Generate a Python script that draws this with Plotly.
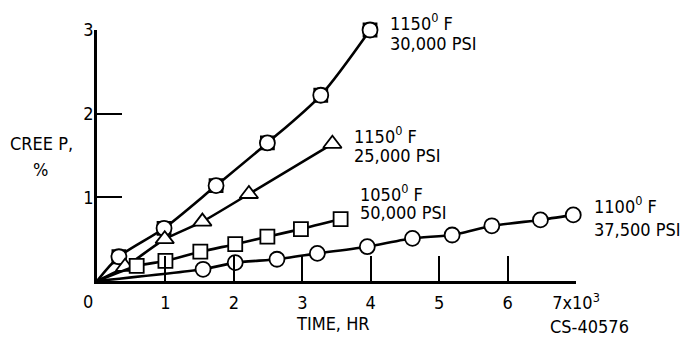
import plotly.graph_objects as go

# ---- data ----
x_30k = [0.32, 0.98, 1.74, 2.49, 3.27, 3.99]
y_30k = [0.29, 0.63, 1.14, 1.65, 2.22, 3.00]

x_25k = [0.41, 0.99, 1.54, 2.22, 3.44]
y_25k = [0.17, 0.50, 0.71, 1.04, 1.64]

x_50k = [0.58, 1.00, 1.51, 2.02, 2.49, 2.98, 3.56]
y_50k = [0.18, 0.24, 0.35, 0.44, 0.53, 0.62, 0.74]

x_375k = [1.55, 2.02, 2.63, 3.22, 3.95, 4.61, 5.19, 5.77, 6.48, 6.96]
y_375k = [0.14, 0.22, 0.26, 0.33, 0.41, 0.51, 0.55, 0.66, 0.73, 0.79]

x_ticks = [1, 2, 3, 4, 5, 6, 7]
x_ticktext = ["1", "2", "3", "4", "5", "6", "7x10<sup>3</sup>"]
y_ticks = [1, 2, 3]
y_ticktext = ["1", "2", "3"]

labels = [
    ("1150<sup>0</sup> F", "30,000 PSI"),
    ("1150<sup>0</sup> F", "25,000 PSI"),
    ("1050<sup>0</sup> F", "50,000 PSI"),
    ("1100<sup>0</sup> F", "37,500 PSI"),
]

FONT = "Liberation Sans Narrow, DejaVu Sans Condensed, Arial Narrow, sans-serif"
FS = 18
LW = 2.6

fig = go.Figure()

def add_series(xs, ys, symbols, smooth):
    fig.add_trace(go.Scatter(
        x=[0] + xs, y=[0] + ys, mode="lines",
        line=dict(color="black", width=LW, shape="spline", smoothing=smooth),
        hoverinfo="skip", showlegend=False, cliponaxis=False))
    for sym, sz in symbols:
        fig.add_trace(go.Scatter(
            x=xs, y=ys, mode="markers",
            marker=dict(symbol=sym, size=sz, color="white",
                        line=dict(color="black", width=1.8)),
            showlegend=False, cliponaxis=False))

add_series(x_30k, y_30k, [("square", 13), ("circle", 15)], 0.8)
add_series(x_25k, y_25k, [("triangle-up", 16)], 0.6)
add_series(x_50k, y_50k, [("square", 14)], 0.6)
add_series(x_375k, y_375k, [("circle", 15)], 0.5)

# label annotations (left-anchored, paper-space placement)
label_pos = [(0.6075, 1.032, 0.948), (0.532, 0.583, 0.499),
             (0.545, 0.352, 0.272), (1.033, 0.304, 0.205)]
for (l1, l2), (lx, ly1, ly2) in zip(labels, label_pos):
    for txt, ly in ((l1, ly1), (l2, ly2)):
        fig.add_annotation(x=lx, y=ly, xref="paper", yref="paper", text=txt,
                           showarrow=False, xanchor="left", yanchor="middle",
                           font=dict(family=FONT, size=FS, color="black"))

def paper_ann(text, x, y):
    fig.add_annotation(x=x, y=y, xref="paper", yref="paper", text=text, showarrow=False,
                       xanchor="center", yanchor="middle",
                       font=dict(family=FONT, size=FS, color="black"))

paper_ann("CREE P,", -0.115, 0.547)
paper_ann("%", -0.117, 0.443)
paper_ann("TIME, HR", 0.493, -0.17)
paper_ann("CS-40576", 1.029, -0.181)
paper_ann("0", -0.018, -0.08)

axis_common = dict(showgrid=False, zeroline=False, showline=True, linecolor="black",
                   linewidth=2.5, ticks="inside", ticklen=25, tickwidth=1.6,
                   tickcolor="black", tickfont=dict(family=FONT, size=FS, color="black"))

fig.update_xaxes(range=[0, 7], tickvals=x_ticks, ticktext=x_ticktext,
                 ticklabelstandoff=4, **axis_common)
fig.update_yaxes(range=[0, 3], tickvals=y_ticks, ticktext=y_ticktext,
                 ticklabelstandoff=-3, **axis_common)

fig.update_layout(width=686, height=344, margin=dict(l=97, r=110, t=30, b=62.5),
                  paper_bgcolor="white", plot_bgcolor="white",
                  font=dict(family=FONT, size=FS, color="black"))

fig.write_html("out.html")
